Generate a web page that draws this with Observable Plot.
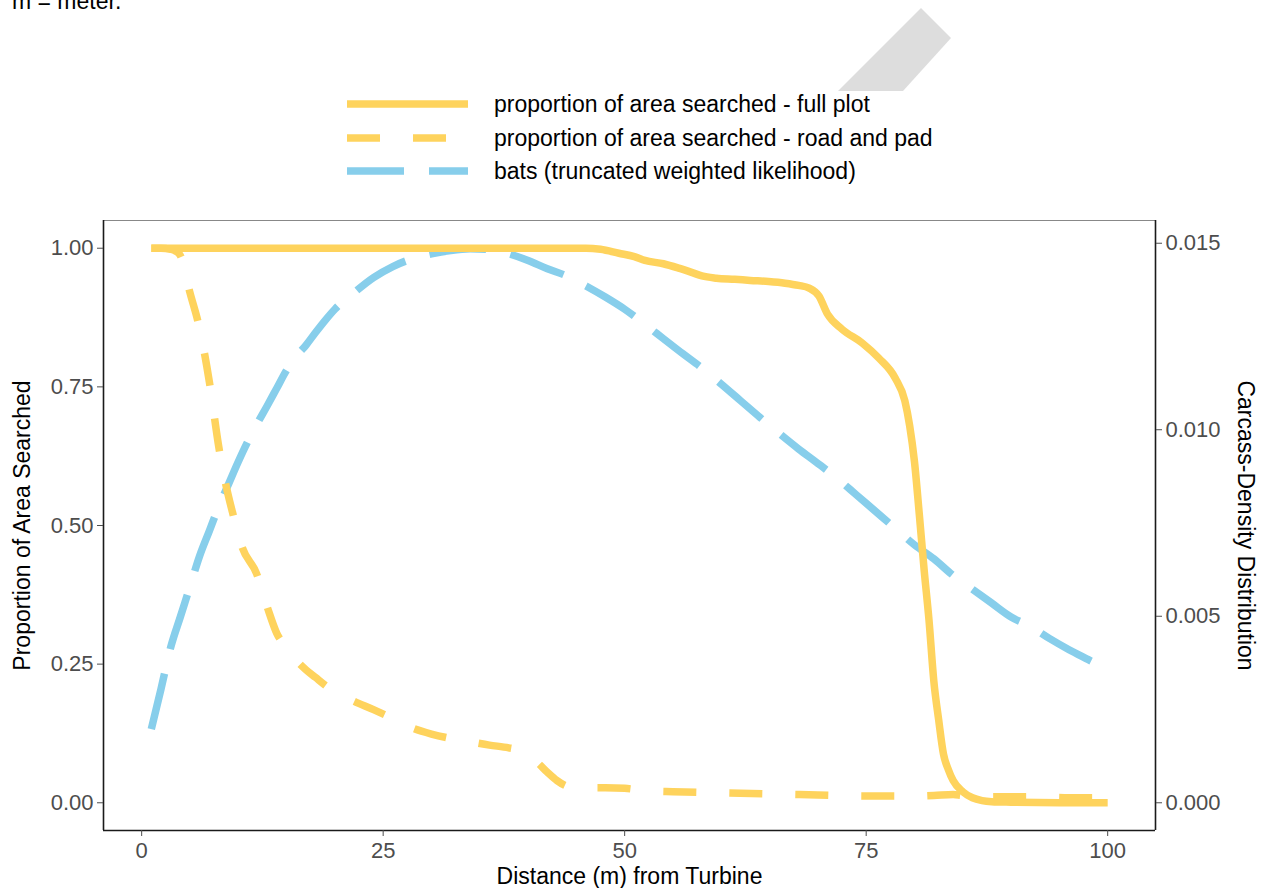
<!DOCTYPE html>
<html>
<head>
<meta charset="utf-8">
<script src="https://cdn.jsdelivr.net/npm/d3@7"></script>
<script src="https://cdn.jsdelivr.net/npm/@observablehq/plot@0.6"></script>
<style>
  html, body { margin: 0; padding: 0; background: #fff; }
  #wrap { position: relative; width: 1267px; height: 888px; overflow: hidden; font-family: "Liberation Sans", Arial, sans-serif; }
  #chart { position: absolute; left: 0; top: 0; }
  .note { position: absolute; left: 12px; top: -12px; font-size: 23px; color: #000; white-space: nowrap; }
  .leg { position: absolute; left: 347px; height: 30px; display: flex; align-items: center; }
  .leg span { font-size: 23px; color: #000; margin-left: 26px; white-space: nowrap; }
  #shape { position: absolute; left: 0; top: 0; }
</style>
</head>
<body>
<div id="wrap">
  <svg id="shape" width="1267" height="100"><polygon points="921,8 951,38 903,91 838,91" fill="#dddddd"/></svg>
  <div class="note">m = meter.</div>
  <div id="legend"></div>
  <div id="chart"></div>
</div>
<script>
// ---- data ----
const xTicks = [0, 25, 50, 75, 100];
const yTicks = [0, 0.25, 0.5, 0.75, 1];
const densityTicks = [0, 0.005, 0.010, 0.015];

const seriesNames = [
  "proportion of area searched - full plot",
  "proportion of area searched - road and pad",
  "bats (truncated weighted likelihood)"
];

const fullDist = [1, 10, 20, 30, 40, 45, 46, 47.5, 49.4, 51, 52.1, 54, 55.6, 57, 58, 59.5, 61.4, 63, 64.9, 66.6, 68, 69.1, 70.1, 71, 72.5, 74.6, 76.3, 78, 79, 79.5, 80, 80.5, 81, 81.5, 82, 82.5, 83, 83.5, 84, 85, 86, 87, 88, 90, 95, 100];
const fullProp = [1, 1, 1, 1, 1, 1, 1, 0.998, 0.991, 0.985, 0.978, 0.972, 0.964, 0.956, 0.950, 0.946, 0.944, 0.942, 0.940, 0.937, 0.933, 0.928, 0.914, 0.881, 0.854, 0.829, 0.802, 0.766, 0.725, 0.68, 0.615, 0.52, 0.42, 0.33, 0.22, 0.15, 0.088, 0.06, 0.04, 0.02, 0.009, 0.004, 0.002, 0.001, 0, 0];

const roadDist = [1, 2, 3, 3.5, 4, 5, 6, 7, 8, 8.7, 9.4, 10.4, 11.9, 13, 14, 15, 16, 17, 18, 19, 20, 22, 24, 26, 28, 30, 32, 34, 36, 38, 39, 40, 41, 42, 43, 44, 45, 48, 50, 52, 55, 60, 65, 70, 75, 80, 82, 84, 85, 88, 92, 96, 100];
const roadProp = [1, 1, 0.998, 0.995, 0.987, 0.92, 0.855, 0.76, 0.64, 0.575, 0.524, 0.461, 0.413, 0.353, 0.305, 0.28, 0.257, 0.24, 0.226, 0.212, 0.2, 0.183, 0.168, 0.152, 0.135, 0.124, 0.116, 0.11, 0.104, 0.099, 0.095, 0.085, 0.072, 0.055, 0.04, 0.03, 0.027, 0.027, 0.026, 0.022, 0.02, 0.018, 0.016, 0.014, 0.012, 0.012, 0.013, 0.015, 0.013, 0.011, 0.011, 0.009, 0.009];

const batDist = [1, 2, 3, 4, 5, 6, 7, 8, 9, 10, 11, 12, 13, 14, 15, 16, 17, 18, 19, 20, 22, 24, 26, 28, 30, 32, 34, 36, 38, 40, 42, 44, 46, 48, 50, 52, 54, 56, 58, 60, 62, 64, 66, 68, 70, 72, 74, 76, 78, 80, 82, 84, 86, 88, 90, 92, 94, 96, 98, 100];
// bat carcass density expressed on the proportion axis (peak = 1)
const batScaled = [0.133, 0.205, 0.28, 0.335, 0.39, 0.445, 0.49, 0.535, 0.575, 0.615, 0.652, 0.685, 0.716, 0.748, 0.78, 0.805, 0.825, 0.848, 0.87, 0.89, 0.92, 0.947, 0.967, 0.981, 0.99, 0.996, 0.999, 0.998, 0.99, 0.978, 0.963, 0.95, 0.932, 0.912, 0.89, 0.864, 0.837, 0.81, 0.784, 0.755, 0.725, 0.695, 0.666, 0.638, 0.612, 0.585, 0.555, 0.525, 0.495, 0.465, 0.44, 0.41, 0.385, 0.36, 0.335, 0.318, 0.296, 0.276, 0.258, 0.24];

const densityPerProp = 0.015 / 1.009; // secondary axis factor

// ---- styles ----
const yellow = "#FED35D";
const blue = "#87CEEB";
const lw = 7.5;
const dashRoad = "33,33";
const dashBat = "57,25";
const fontFam = "'Liberation Sans', Arial, sans-serif";

// ---- build tables ----
const full = fullDist.map((d, i) => ({d, v: fullProp[i]}));
const road = roadDist.map((d, i) => ({d, v: roadProp[i]}));
const bats = batDist.map((d, i) => ({d, v: batScaled[i]}));

const xDom = [-3.95, 104.95];
const yDom = [-0.05, 1.05];

const titleOpts = {fontSize: 23, fill: "#000", textAnchor: "middle", lineAnchor: "middle"};

const chart = Plot.plot({
  width: 1267,
  height: 888,
  marginLeft: 103,
  marginRight: 112,
  marginTop: 220,
  marginBottom: 58,
  style: {fontFamily: fontFam, background: "transparent", overflow: "visible"},
  x: {domain: xDom},
  y: {domain: yDom},
  marks: [
    Plot.ruleY([yDom[1]], {stroke: "#888", strokeWidth: 1.2}),
    Plot.ruleX([xDom[1]], {stroke: "#1a1a1a", strokeWidth: 1.6}),
    Plot.ruleX([xDom[0]], {stroke: "#1a1a1a", strokeWidth: 1.6}),
    Plot.ruleY([yDom[0]], {stroke: "#1a1a1a", strokeWidth: 1.6}),
    Plot.line(bats, {x: "d", y: "v", stroke: blue, strokeWidth: lw, strokeDasharray: dashBat, strokeLinecap: "butt", curve: "monotone-x"}),
    Plot.line(road, {x: "d", y: "v", stroke: yellow, strokeWidth: lw, strokeDasharray: dashRoad, strokeLinecap: "butt", curve: "monotone-x"}),
    Plot.line(full, {x: "d", y: "v", stroke: yellow, strokeWidth: lw, strokeLinecap: "butt", curve: "monotone-x"}),
    Plot.axisX(xTicks, {tickSize: 6, tickPadding: 6, fontSize: 22, color: "#4d4d4d", label: null, tickFormat: d => String(d)}),
    Plot.axisY(yTicks, {anchor: "left", tickSize: 6, tickPadding: 4, fontSize: 22, color: "#4d4d4d", label: null, tickFormat: d3.format(".2f")}),
    Plot.axisY(densityTicks.map(t => t / densityPerProp), {anchor: "right", tickSize: 6, tickPadding: 4, fontSize: 22, color: "#4d4d4d", label: null, tickFormat: d => (d * densityPerProp).toFixed(3)}),
    Plot.text(["Proportion of Area Searched"], {...titleOpts, frameAnchor: "left", dx: -81, rotate: -90}),
    Plot.text(["Carcass-Density Distribution"], {...titleOpts, frameAnchor: "right", dx: 90, rotate: 90}),
    Plot.text(["Distance (m) from Turbine"], {...titleOpts, frameAnchor: "bottom", dy: 46})
  ]
});
document.getElementById("chart").appendChild(chart);

// ---- legend ----
const legendItems = [
  {name: seriesNames[0], color: yellow, dash: null, y: 89},
  {name: seriesNames[1], color: yellow, dash: dashRoad, y: 123},
  {name: seriesNames[2], color: blue, dash: dashBat, y: 156}
];
const legend = document.getElementById("legend");
for (const it of legendItems) {
  const row = document.createElement("div");
  row.className = "leg";
  row.style.top = it.y + "px";
  row.innerHTML = `<svg width="121" height="30"><line x1="0" x2="121" y1="15" y2="15" stroke="${it.color}" stroke-width="${lw}" ${it.dash ? `stroke-dasharray="${it.dash}"` : ""}/></svg><span>${it.name}</span>`;
  legend.appendChild(row);
}
</script>
</body>
</html>
